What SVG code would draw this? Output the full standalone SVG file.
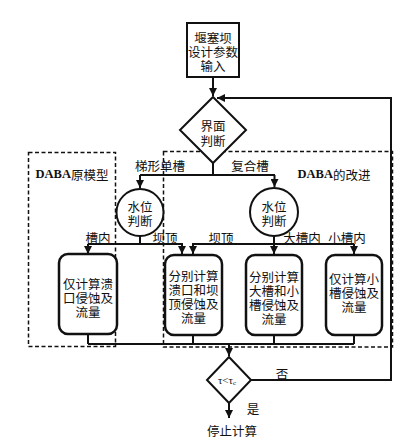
<svg xmlns="http://www.w3.org/2000/svg" width="417" height="447" viewBox="0 0 417 447">
<style>
text{font-family:"Noto Sans CJK SC","Liberation Serif",serif;font-size:12.5px;fill:#111;text-anchor:middle;dominant-baseline:central}
.lat{font-family:"Liberation Serif","Noto Sans CJK SC",serif;font-weight:bold}
.node{fill:#fff;stroke:#111;stroke-width:2}
.box{fill:#fff;stroke:#111;stroke-width:2.5}
.ln{fill:none;stroke:#111;stroke-width:2}
.dash{fill:none;stroke:#111;stroke-width:1.5;stroke-dasharray:4 2.5}
</style>
<defs>
<marker id="ah" viewBox="0 0 10 10" refX="10" refY="5" markerWidth="4" markerHeight="4" orient="auto" markerUnits="strokeWidth">
<path d="M0,0 L10,5 L0,10 z" fill="#111"/>
</marker>
</defs>
<rect width="417" height="447" fill="#fff"/>
<g id="regions">
<rect class="dash" x="28.5" y="152.5" width="87" height="194"/>
<rect class="dash" x="163.5" y="151.5" width="229" height="195.5"/>
<text x="72" y="174"><tspan class="lat">DABA</tspan>原模型</text>
<text x="334" y="174"><tspan class="lat">DABA</tspan>的改进</text>
</g>
<g id="connectors">
<path class="ln" d="M213,77 V96" marker-end="url(#ah)"/>
<path class="ln" d="M251,380 H391 V98 H217" marker-end="url(#ah)"/>
<path class="ln" d="M213,163 V175 M140,175 H275"/>
<path class="ln" d="M140,175 V188" marker-end="url(#ah)"/>
<path class="ln" d="M274.5,175 V187" marker-end="url(#ah)"/>
<path class="ln" d="M140,236 V244 M88,244 H183"/>
<path class="ln" d="M88,244 V254" marker-end="url(#ah)"/>
<path class="ln" d="M182,244 V254" marker-end="url(#ah)"/>
<path class="ln" d="M274,236 V254" marker-end="url(#ah)"/>
<path class="ln" d="M193,254 V244 H354"/>
<path class="ln" d="M193,246 V254" marker-end="url(#ah)"/>
<path class="ln" d="M354,244 V254" marker-end="url(#ah)"/>
<path class="ln" d="M88,334 V344 M193,335 V344 M274,335 V344 M354,335 V344 M88,344 H354"/>
<path class="ln" d="M229,344 V356" marker-end="url(#ah)"/>
<path class="ln" d="M229,403 V418" marker-end="url(#ah)"/>
<text x="160" y="165">梯形单槽</text>
<text x="250" y="165">复合槽</text>
<text x="98" y="237">槽内</text>
<text x="165" y="237">坝顶</text>
<text x="221" y="237">坝顶</text>
<text x="302" y="237">大槽内</text>
<text x="347" y="237">小槽内</text>
<text x="282" y="373">否</text>
<text x="253" y="408">是</text>
</g>
<g id="input">
<rect class="node" x="187" y="23" width="52" height="54"/>
<text x="213" y="37">堰塞坝<tspan x="213" dy="14">设计参数</tspan><tspan x="213" dy="14">输入</tspan></text>
</g>
<g id="decision1">
<path class="node" d="M213,97 L246,130 L213,163 L180,130 z"/>
<text x="213" y="125">界面<tspan x="213" dy="15">判断</tspan></text>
</g>
<g id="level1">
<circle class="node" cx="140" cy="212.5" r="23.5"/>
<text x="140" y="206">水位<tspan x="140" dy="14">判断</tspan></text>
</g>
<g id="level2">
<circle class="node" cx="274" cy="212" r="24"/>
<text x="274" y="206">水位<tspan x="274" dy="14">判断</tspan></text>
</g>
<g id="boxA">
<rect class="box" x="59" y="254" width="58" height="80" rx="9"/>
<text x="88" y="283">仅计算溃<tspan x="88" dy="14">口侵蚀及</tspan><tspan x="88" dy="14">流量</tspan></text>
</g>
<g id="boxB">
<rect class="box" x="165" y="255" width="57" height="80" rx="9"/>
<text x="193.5" y="275">分别计算<tspan x="193.5" dy="14">溃口和坝</tspan><tspan x="193.5" dy="14">顶侵蚀及</tspan><tspan x="193.5" dy="14">流量</tspan></text>
</g>
<g id="boxC">
<rect class="box" x="246" y="255" width="56" height="80" rx="9"/>
<text x="274" y="276">分别计算<tspan x="274" dy="14">大槽和小</tspan><tspan x="274" dy="14">槽侵蚀及</tspan><tspan x="274" dy="14">流量</tspan></text>
</g>
<g id="boxD">
<rect class="box" x="326" y="255" width="56" height="80" rx="9"/>
<text x="354" y="278">仅计算小<tspan x="354" dy="14">槽侵蚀及</tspan><tspan x="354" dy="14">流量</tspan></text>
</g>
<g id="decision2">
<path class="node" d="M229,357 L251,380 L229,403 L207,380 z"/>
<text x="227" y="380" style="font-family:'Liberation Serif',serif;font-size:11px">τ&lt;τ<tspan style="font-size:7px" dy="3">c</tspan></text>
</g>
<g id="stop">
<text x="232" y="430">停止计算</text>
</g>
</svg>
